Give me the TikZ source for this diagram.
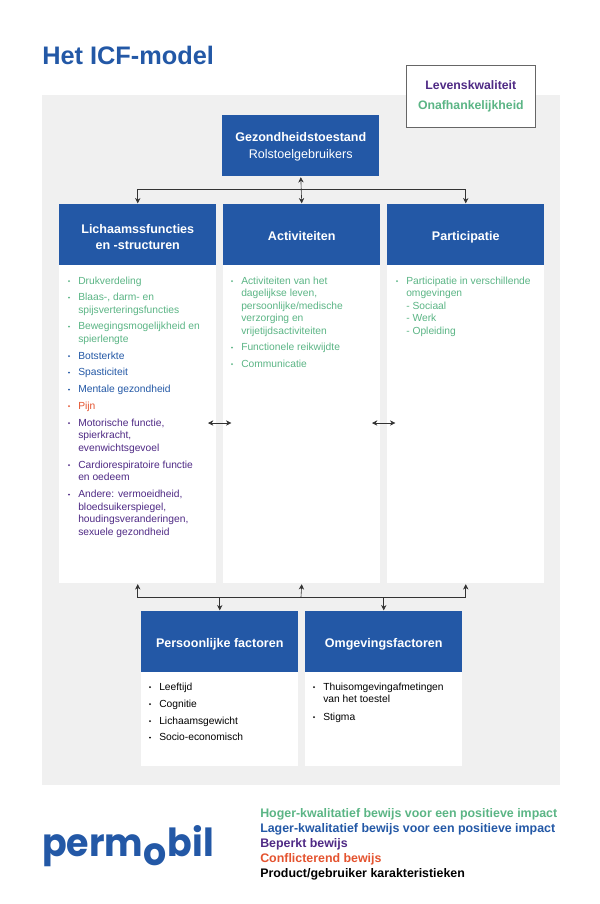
\documentclass[tikz,border=0pt]{standalone}
\usepackage{fontspec}
\setmainfont{Liberation Sans}
\newfontfamily\logofont[FakeStretch=0.94]{Poppins}
\usetikzlibrary{arrows.meta}
\definecolor{icfblue}{HTML}{2358A6}
\definecolor{icfgreen}{HTML}{5BB585}
\definecolor{icfpurple}{HTML}{4F2A85}
\definecolor{icforange}{HTML}{E4532F}
\definecolor{icfpanel}{HTML}{F0F0F0}
\tikzset{
	headbox/.style={fill=icfblue, text=white, inner sep=0, minimum width=117.75pt, minimum height=45.75pt, anchor=north west, align=center, font=\fontsize{9.4}{12.4}\selectfont},
	headsingle/.style={headbox, text height=9.8pt, text depth=1.2pt},
	listpanel/.style={fill=white, inner sep=0, minimum width=117.75pt, anchor=north west},
	entrytext/.style={inner sep=0, anchor=north west, font=\fontsize{7.7}{9.45}\selectfont},
	legendline/.style={inner sep=0, anchor=base west, font=\fontsize{9.3}{11}\selectfont\bfseries},
	linkline/.style={line width=0.45pt, color=black!80, arrows={-Stealth[length=4pt,width=4pt]}, shorten >=0.5pt},
	linkboth/.style={linkline, arrows={Stealth[length=4pt,width=4pt]-Stealth[length=4pt,width=4pt]}},
	logopart/.style={inner sep=0, anchor=base west, text=icfblue, font=\logofont\fontsize{29}{29}\selectfont\bfseries}
}
% entry of a list: colour, name, x, y of first line, text
\def\listentry[#1](#2)(#3,#4)#5{\fill[#1] (#3-9,#4) circle (1);
	\node[entrytext, text=#1] (#2) at (#3,#4-6) {\begin{tabular}[t]{@{}l@{}}#5\end{tabular}};}

\begin{document}
\begin{tikzpicture}[x=0.75pt, y=-0.75pt]
	\useasboundingbox (0,0) rectangle (600,904);
	
	%%%%% TOP %%%%%
	\fill[icfpanel] (42,95) rectangle (560,785);
	
	\node[inner sep=0, anchor=base west, text=icfblue, font=\fontsize{19}{20}\selectfont\bfseries] (title) at (42,64) {Het ICF-model};
	
	\node[draw=black!60, line width=0.5pt, fill=white, inner sep=0, minimum width=96.75pt, minimum height=46.5pt, anchor=north west, align=center, font=\fontsize{9.2}{14.6}\selectfont\bfseries] (outcome) at (406,65) {\textcolor{icfpurple}{Levenskwaliteit}\\\textcolor{icfgreen}{Onafhankelijkheid}};
	
	\node[headbox] (health) at (222,115) {\rule{0pt}{8pt}\textbf{Gezondheidstoestand}\\Rolstoelgebruikers};
	
	\node[headbox] (body) at (59,204) {\rule{0pt}{10pt}\textbf{Lichaamssfuncties}\\\textbf{en -structuren}};
	\node[headsingle] (act) at (223,204) {\textbf{Activiteiten}};
	\node[headsingle] (part) at (387,204) {\textbf{Participatie}};
	
	\node[listpanel, minimum height=238.5pt] (bodylist) at (59,265) {};
	\node[listpanel, minimum height=238.5pt] (actlist) at (223,265) {};
	\node[listpanel, minimum height=238.5pt] (partlist) at (387,265) {};
	
	%%%%% LISTS %%%%%
	\listentry[icfgreen](druk)(78,281){Drukverdeling}
	\listentry[icfgreen](blaas)(78,297.5){Blaas-, darm- en\\spijsverteringsfuncties}
	\listentry[icfgreen](beweging)(78,326.5){Bewegingsmogelijkheid en\\spierlengte}
	\listentry[icfblue](bot)(78,356){Botsterkte}
	\listentry[icfblue](spast)(78,372.5){Spasticiteit}
	\listentry[icfblue](mentaal)(78,389.5){Mentale gezondheid}
	\listentry[icforange](pijn)(78,406){Pijn}
	\listentry[icfpurple](motoriek)(78,423){Motorische functie,\\spierkracht,\\evenwichtsgevoel}
	\listentry[icfpurple](cardio)(78,465){Cardiorespiratoire functie\\en oedeem}
	\listentry[icfpurple](andere)(78,494.5){Andere: vermoeidheid,\\bloedsuikerspiegel,\\houdingsveranderingen,\\sexuele gezondheid}
	
	\listentry[icfgreen](dagelijks)(241,281){Activiteiten van het\\dagelijkse leven,\\persoonlijke/medische\\verzorging en\\vrijetijdsactiviteiten}
	\listentry[icfgreen](reikwijdte)(241,347.5){Functionele reikwijdte}
	\listentry[icfgreen](communicatie)(241,364){Communicatie}
	
	\listentry[icfgreen](deelname)(406,281){Participatie in verschillende\\omgevingen\\- Sociaal\\- Werk\\- Opleiding}
	
	%%%%% BOTTOM %%%%%
	\node[headsingle] (personal) at (141,611) {\textbf{Persoonlijke factoren}};
	\node[headsingle] (env) at (305,611) {\textbf{Omgevingsfactoren}};
	
	\node[listpanel, minimum height=70.5pt] (personallist) at (141,672) {};
	\node[listpanel, minimum height=70.5pt] (envlist) at (305,672) {};
	
	\listentry[black](leeftijd)(159,687){Leeftijd}
	\listentry[black](cognitie)(159,704){Cognitie}
	\listentry[black](gewicht)(159,721){Lichaamsgewicht}
	\listentry[black](socio)(159,737.5){Socio-economisch}
	
	\listentry[black](thuis)(323,687){Thuisomgevingafmetingen\\van het toestel}
	\listentry[black](stigma)(323,717){Stigma}
	
	%%%%% LINKS %%%%%
	\coordinate (bustop) at (301,189);
	\draw[linkline] (bustop) -| (body.north);
	\draw[linkline] (bustop) -| (part.north);
	\draw[linkboth, shorten <=0.5pt] (health.south) -- (act.north);
	
	\coordinate (busbottom) at (301,597);
	\draw[linkline] (busbottom) -| (bodylist.south);
	\draw[linkline] (busbottom) -- (actlist.south);
	\draw[linkline] (busbottom) -| (partlist.south);
	\draw[linkline] (busbottom) -| (personal.north);
	\draw[linkline] (busbottom) -| (env.north);
	
	\coordinate (sideleftA) at (208,423);
	\coordinate (sideleftB) at (232,423);
	\coordinate (siderightA) at (372,423);
	\coordinate (siderightB) at (396,423);
	\draw[linkboth] (sideleftA) -- (sideleftB);
	\draw[linkboth] (siderightA) -- (siderightB);
	
	%%%%% FOOT %%%%%
	\node[logopart] (logoperm) at (42,856) {perm};
	\node[logopart] (logoo) at (logoperm.base east) [yshift=-6.75pt] {o};
	\node[logopart] (logobil) at (logoo.base east) [yshift=6.75pt] {bil};
	
	\node[legendline, text=icfgreen] (legendhigh) at (260,817) {Hoger-kwalitatief bewijs voor een positieve impact};
	\node[legendline, text=icfblue] (legendlow) at (260,832) {Lager-kwalitatief bewijs voor een positieve impact};
	\node[legendline, text=icfpurple] (legendlimited) at (260,847) {Beperkt bewijs};
	\node[legendline, text=icforange] (legendconflict) at (260,862) {Conflicterend bewijs};
	\node[legendline, text=black] (legendproduct) at (260,877) {Product/gebruiker karakteristieken};
\end{tikzpicture}
\end{document}
